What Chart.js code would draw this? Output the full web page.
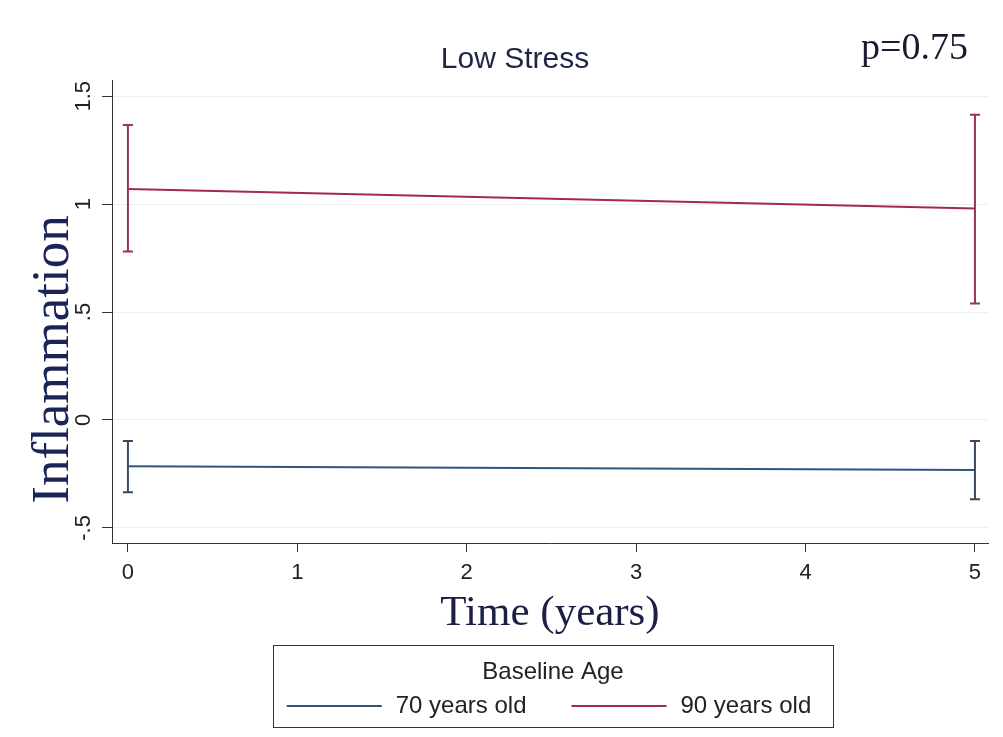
<!DOCTYPE html>
<html>
<head>
<meta charset="utf-8">
<title>Low Stress</title>
<script src="https://cdn.jsdelivr.net/npm/chart.js@4.4.1/dist/chart.umd.min.js"></script>
<style>
  body { margin: 0; background: #fff; }
  #wrap { width: 1003px; height: 737px; }
</style>
</head>
<body>
<div id="wrap"><canvas id="chart" width="1003" height="737"></canvas></div>
<script>
// values
const timePoints = [0, 5];
const age70Mean = [-0.215, -0.232];
const age70Lower = [-0.335, -0.367];
const age70Upper = [-0.098, -0.098];
const age90Mean = [1.07, 0.98];
const age90Lower = [0.78, 0.54];
const age90Upper = [1.367, 1.414];
const seriesLabels = ['70 years old', '90 years old'];
const xTicks = [0, 1, 2, 3, 4, 5];
const yTicks = [-0.5, 0, 0.5, 1, 1.5];
const yTickLabels = ['-.5', '0', '.5', '1', '1.5'];
const pValueText = 'p=0.75';
const legendTitle = 'Baseline Age';

const SANS = '"Liberation Sans", Arial, sans-serif';
const SERIF = '"Liberation Serif", "Times New Roman", serif';

function points(means) {
    return timePoints.map((t, i) => ({x: t, y: means[i]}));
}

// vertical error bars with caps, placed through the chart scales
const errorBars = {
    id: 'errorBars',
    afterDatasetsDraw(chart) {
        const ctx = chart.ctx;
        const xs = chart.scales.x, ys = chart.scales.y;
        chart.data.datasets.forEach(ds => {
            ctx.save();
            ctx.strokeStyle = ds.barColor;
            ctx.lineWidth = 2;
            timePoints.forEach((t, i) => {
                const px = xs.getPixelForValue(t);
                const lo = ys.getPixelForValue(ds.lower[i]);
                const hi = ys.getPixelForValue(ds.upper[i]);
                ctx.beginPath();
                ctx.moveTo(px, lo); ctx.lineTo(px, hi);
                ctx.moveTo(px - 5, lo); ctx.lineTo(px + 5, lo);
                ctx.moveTo(px - 5, hi); ctx.lineTo(px + 5, hi);
                ctx.stroke();
            });
            ctx.restore();
        });
    }
};

// rotated y tick labels, y title, p value and the boxed legend
const extras = {
    id: 'extras',
    afterDraw(chart) {
        const ctx = chart.ctx;
        const ys = chart.scales.y;
        const area = chart.chartArea;

        ctx.save();
        ctx.fillStyle = '#222';
        ctx.font = '22px ' + SANS;
        ctx.textAlign = 'center';
        ctx.textBaseline = 'middle';
        yTicks.forEach((v, i) => {
            ctx.save();
            ctx.translate(area.left - 28, ys.getPixelForValue(v));
            ctx.rotate(-Math.PI / 2);
            ctx.fillText(yTickLabels[i], 0, 0);
            ctx.restore();
        });

        ctx.save();
        ctx.fillStyle = '#1b2456';
        ctx.font = '53px ' + SERIF;
        ctx.textBaseline = 'alphabetic';
        ctx.translate(68, (area.top + area.bottom) / 2 + 48);
        ctx.rotate(-Math.PI / 2);
        ctx.fillText('Inflammation', 0, 0);
        ctx.restore();

        ctx.fillStyle = '#1a1a30';
        ctx.font = '38px ' + SERIF;
        ctx.textAlign = 'right';
        ctx.textBaseline = 'alphabetic';
        ctx.fillText(pValueText, area.right - 20, 59);

        // legend
        const cx = (area.left + area.right) / 2 + 3;
        const top = chart.height - 10 - 82;
        ctx.font = '24px ' + SANS;
        const lineW = 95, gapText = 14, gapItem = 45;
        const widths = seriesLabels.map(s => ctx.measureText(s).width);
        const total = widths.reduce((a, b) => a + b, 0) + 2 * (lineW + gapText) + gapItem;
        const boxW = total + 36;
        ctx.strokeStyle = '#333';
        ctx.lineWidth = 1;
        ctx.strokeRect(Math.round(cx - boxW / 2) + 0.5, top + 0.5, Math.round(boxW), 82);

        ctx.fillStyle = '#222';
        ctx.textAlign = 'center';
        ctx.textBaseline = 'middle';
        ctx.fillText(legendTitle, cx, top + 27);

        let x = cx - total / 2 - 4;
        const iy = top + 61;
        chart.data.datasets.forEach((ds, i) => {
            ctx.strokeStyle = ds.borderColor;
            ctx.lineWidth = 2;
            ctx.beginPath();
            ctx.moveTo(x, iy); ctx.lineTo(x + lineW, iy);
            ctx.stroke();
            x += lineW + gapText;
            ctx.textAlign = 'left';
            ctx.fillStyle = '#222';
            ctx.fillText(ds.label, x, iy);
            x += widths[i] + gapItem;
        });
        ctx.restore();
    }
};

const ctx = document.getElementById('chart');
const myChart = new Chart(ctx, {
    type: 'line',
    data: {
        datasets: [{
            label: seriesLabels[0],
            data: points(age70Mean),
            lower: age70Lower,
            upper: age70Upper,
            borderColor: '#2a5680',
            barColor: '#3a4b60',
            borderWidth: 2,
            pointRadius: 0
        }, {
            label: seriesLabels[1],
            data: points(age90Mean),
            lower: age90Lower,
            upper: age90Upper,
            borderColor: '#a02c4c',
            barColor: '#9c3352',
            borderWidth: 2,
            pointRadius: 0
        }]
    },
    options: {
        responsive: false,
        animation: false,
        layout: { padding: { left: 42, right: 15, top: 0, bottom: 97 } },
        plugins: {
            legend: { display: false },
            tooltip: { enabled: false },
            title: {
                display: true,
                text: 'Low Stress',
                color: '#1c2744',
                font: { family: SANS, size: 30, weight: 'normal' },
                padding: { top: 42, bottom: 2 }
            }
        },
        scales: {
            x: {
                type: 'linear',
                min: -0.094,
                max: 5.077,
                afterBuildTicks: s => { s.ticks = xTicks.map(v => ({value: v})); },
                afterFit: s => { s.height = 97; },
                ticks: { color: '#222', font: { family: SANS, size: 22 }, padding: 8, maxRotation: 0 },
                grid: { drawOnChartArea: false, tickColor: '#333', tickLength: 9 },
                border: { color: '#333', width: 1 },
                title: {
                    display: true,
                    text: 'Time (years)',
                    color: '#1b1f45',
                    font: { family: SERIF, size: 43 },
                    padding: { top: 0, bottom: 0 }
                }
            },
            y: {
                min: -0.57,
                max: 1.575,
                afterBuildTicks: s => { s.ticks = yTicks.map(v => ({value: v})); },
                afterFit: s => { s.width = 70; },
                ticks: { display: false },
                grid: { color: '#efefef', tickColor: '#333', tickLength: 10 },
                border: { color: '#333', width: 1 }
            }
        }
    },
    plugins: [errorBars, extras]
});
</script>
</body>
</html>
